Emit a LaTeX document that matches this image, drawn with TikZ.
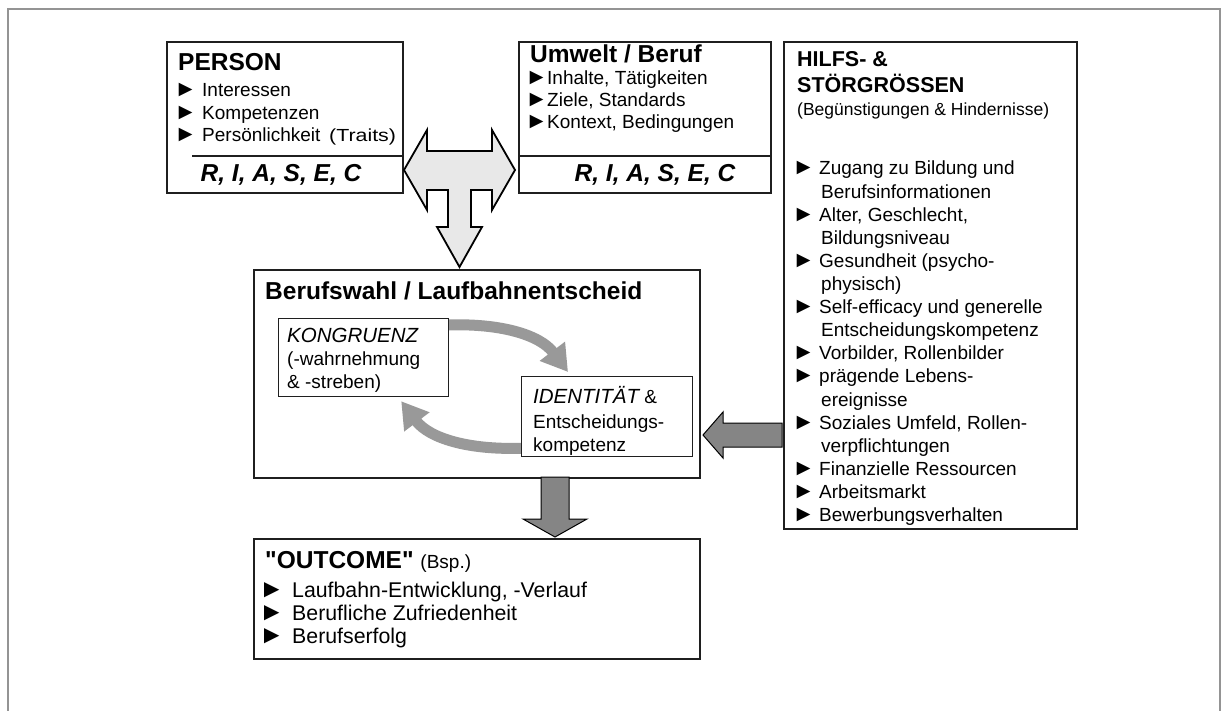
\documentclass[tikz,border=0pt]{standalone}
\usepackage{fontspec}
\setmainfont{Liberation Sans}[Ligatures=TeXOff]
\usetikzlibrary{arrows.meta,calc}
% font size in pt (1pt = 1px of the final image)
\newcommand\fs[1]{\fontsize{#1pt}{#1pt}\selectfont}
% bullet: glyph centred in a 13pt slot, followed by the rest of the given advance
\newcommand\bul[1]{\makebox[#1][l]{\makebox[13pt][c]{\scalebox{1.2}{►}}}}
\begin{document}
\begin{tikzpicture}[x=1pt,y=-1pt,
  boxframe/.style={draw=black!88,line width=1.7pt,fill=white,inner sep=0pt,anchor=north west},
  txt/.style={inner sep=0pt,anchor=base west,font=\fs{19}},
  ttl/.style={inner sep=0pt,anchor=base west,font=\fs{24.5}\bfseries},
  riasec/.style={inner sep=0pt,anchor=base,font=\fs{24.5}\bfseries\itshape},
  band/.style={draw=black!40,line width=11pt,-{Triangle[width=30pt,length=26pt]}},
  lightarrow/.style={draw=black,line width=1.8pt,fill=black!9,line join=miter},
  darkarrow/.style={draw=black,line width=1pt,fill=black!48,line join=miter},
]
\useasboundingbox (0,0) rectangle (1222,711);

% outer frame, open at the bottom
\draw[black!42,line width=2.5pt] (8,711) -- (8,9) -- (1220,9) -- (1220,711);

% top row of boxes
\node[boxframe,minimum width=236pt,minimum height=151pt] (person) at (166,41) {};
\node[boxframe,minimum width=252pt,minimum height=151pt] (umwelt) at (518,41) {};
\node[boxframe,minimum width=293pt,minimum height=487pt] (hilfs) at (783,41) {};
\draw[black!88,line width=1.3pt] (192,156) -- (person.east |- 0,156);
\draw[black!88,line width=1.3pt] (umwelt.west |- 0,156) -- (umwelt.east |- 0,156);

% decision box and outcome box
\node[boxframe,minimum width=446pt,minimum height=208pt] (wahl) at (253,269) {};
\node[boxframe,minimum width=446pt,minimum height=120pt] (outcome) at (253,538) {};

% T-shaped double arrow between person and environment, pointing down
\draw[lightarrow] (404,170) -- (427,130) -- (427,151) -- (492,151) -- (492,130)
  -- (515,170) -- (492,210) -- (492,190) -- (471,190) -- (471,227) -- (482,227)
  -- (459.5,267) -- (437,227) -- (448,227) -- (448,190) -- (427,190) -- (427,210) -- cycle;

% influences arrow into the decision box
\draw[darkarrow] (703,435) -- (723,412) -- (723,423) -- (782,423) -- (782,447)
  -- (723,447) -- (723,458) -- cycle;

% arrow from decision to outcome
\draw[darkarrow] (541,477) -- (569,477) -- (569,519) -- (587,519) -- (555,537)
  -- (523,519) -- (541,519) -- cycle;

% inner boxes with the circular gray arrows
\node[boxframe,line width=1.2pt,minimum width=170pt,minimum height=78pt] (kong) at (278,318) {};
\node[boxframe,line width=1.2pt,minimum width=171pt,minimum height=80pt] (ident) at (521,376) {};
\draw[band] ([shift={(-3,7)}]kong.north east) .. controls +(55,-2) and +(-28,-37)
  .. ([shift={(47,-4)}]ident.north west);
\draw[band] ([shift={(2,-9)}]ident.south west) .. controls +(-55,2) and +(28,37)
  .. ([shift={(-48,4)}]kong.south east);
\node[boxframe,line width=1.2pt,minimum width=170pt,minimum height=78pt] (kongB) at (278,318) {};
\node[boxframe,line width=1.2pt,minimum width=171pt,minimum height=80pt] (identB) at (521,376) {};

% PERSON
\node[ttl] (personT) at (178,71) {PERSON};
\node[txt] (p1) at (179,97) {\bul{23pt}Interessen};
\node[txt] (p2) at (179,120) {\bul{23pt}Kompetenzen};
\node[txt] (p3) at (179,142) {\bul{23pt}Persönlichkeit};
\node[inner sep=0pt,anchor=base west,font=\fs{17.5}] (traits) at (329,142) {\scalebox{1.22}[1]{(Traits)}};
\node[riasec] (pR) at (281,182) {R, I, A, S, E, C};

% Umwelt / Beruf
\node[ttl] (umweltT) at (530,63) {Umwelt / Beruf};
\node[txt] (u1) at (530,85) {\bul{17pt}Inhalte, Tätigkeiten};
\node[txt] (u2) at (530,107) {\bul{17pt}Ziele, Standards};
\node[txt] (u3) at (530,129) {\bul{17pt}Kontext, Bedingungen};
\node[riasec] (uR) at (655,182) {R, I, A, S, E, C};

% HILFS- & STÖRGRÖSSEN
\node[txt,font=\fs{21.5}\bfseries] (hT1) at (797,67) {HILFS- \&};
\node[txt,font=\fs{21.5}\bfseries] (hT2) at (797,93) {STÖRGRÖSSEN};
\node[txt,font=\fs{17.5}] (hSub) at (797,116) {(Begünstigungen \& Hindernisse)};
\foreach \t [count=\i from 0] in {
  {\bul{22pt}Zugang zu Bildung und},
  {\hspace*{24pt}Berufsinformationen},
  {\bul{22pt}Alter, Geschlecht,},
  {\hspace*{24pt}Bildungsniveau},
  {\bul{22pt}Gesundheit (psycho-},
  {\hspace*{24pt}physisch)},
  {\bul{22pt}Self-efficacy und generelle},
  {\hspace*{24pt}Entscheidungskompetenz},
  {\bul{22pt}Vorbilder, Rollenbilder},
  {\bul{22pt}prägende Lebens-},
  {\hspace*{24pt}ereignisse},
  {\bul{22pt}Soziales Umfeld, Rollen-},
  {\hspace*{24pt}verpflichtungen},
  {\bul{22pt}Finanzielle Ressourcen},
  {\bul{22pt}Arbeitsmarkt},
  {\bul{22pt}Bewerbungsverhalten}}
  \node[txt] (hl\i) at (797,{175+23.1*\i}) {\t};

% Berufswahl / Laufbahnentscheid
\node[ttl] (wahlT) at (265,299) {Berufswahl / Laufbahnentscheid};
\node[txt,font=\fs{20.5}\itshape] (k1) at (287,342) {KONGRUENZ};
\node[txt] (k2) at (287,365) {(-wahrnehmung};
\node[txt] (k3) at (287,388) {\& -streben)};
\node[txt] (i1) at (533,403) {{\fs{20.5}\itshape IDENTITÄT} \&};
\node[txt] (i2) at (533,428) {Entscheidungs-};
\node[txt] (i3) at (533,451) {kompetenz};

% OUTCOME
\node[ttl] (outT) at (265,568) {"OUTCOME" {\fs{19}\mdseries(Bsp.)}};
\node[txt,font=\fs{21.3}] (o1) at (265,597) {\bul{27pt}Laufbahn-Entwicklung, -Verlauf};
\node[txt,font=\fs{21.3}] (o2) at (265,620) {\bul{27pt}Berufliche Zufriedenheit};
\node[txt,font=\fs{21.3}] (o3) at (265,643) {\bul{27pt}Berufserfolg};
\end{tikzpicture}
\end{document}
